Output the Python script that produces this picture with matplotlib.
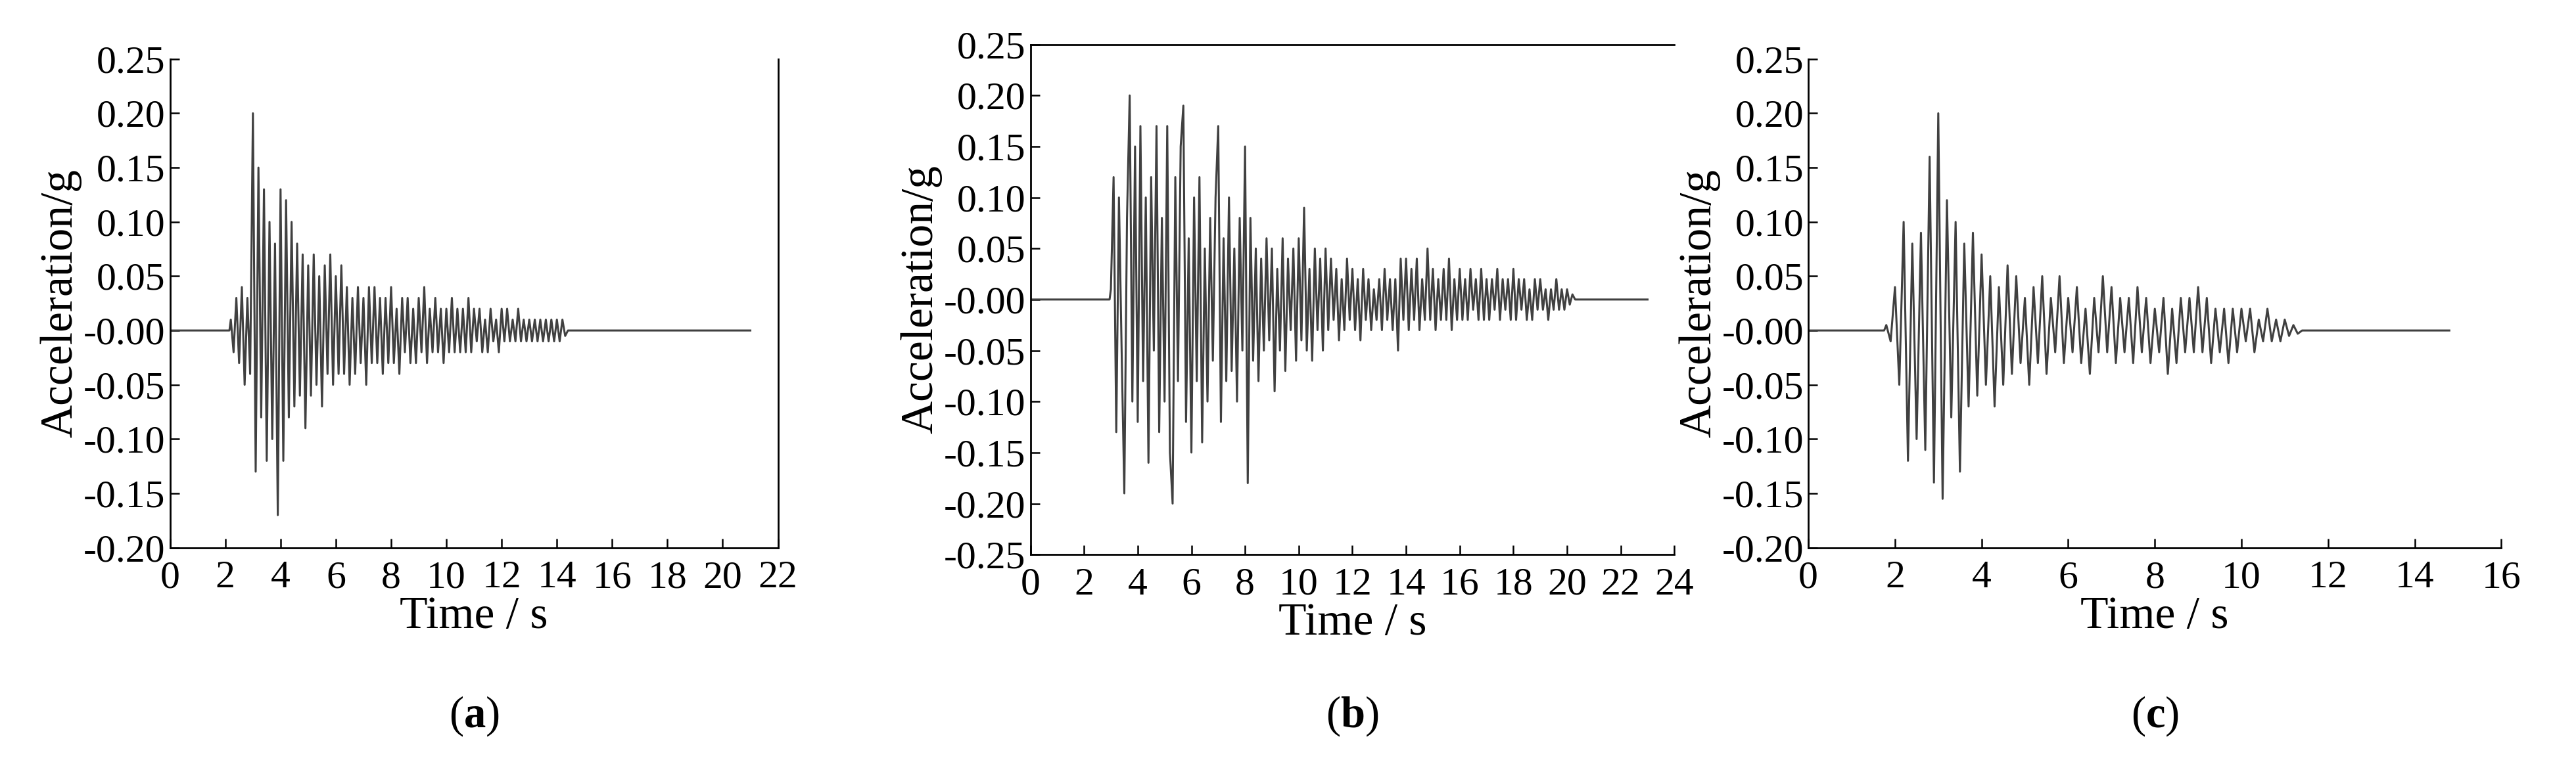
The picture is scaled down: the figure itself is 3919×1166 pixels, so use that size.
import numpy as np
import matplotlib
matplotlib.use("Agg")
import matplotlib.pyplot as plt

plt.rcParams['font.family'] = ['Liberation Serif', 'DejaVu Serif']
plt.rcParams['mathtext.fontset'] = 'custom'
plt.rcParams['mathtext.rm'] = 'Liberation Serif'
plt.rcParams['mathtext.bf'] = 'Liberation Serif:bold'
plt.rcParams['axes.unicode_minus'] = False

# ---- data ----
a_start, a_end, a_total = 2.2, 14.4, 21.0
a_vals = [0.01,-0.02,0.03,-0.03,0.04,-0.05,0.03,-0.04,
 0.20,-0.13,0.15,-0.08,0.13,-0.12,0.10,-0.10,0.08,-0.17,
 0.13,-0.12,0.12,-0.08,0.10,-0.07,0.08,-0.06,0.07,-0.09,
 0.06,-0.06,0.07,-0.05,0.05,-0.07,0.06,-0.04,0.07,-0.05,
 0.05,-0.04,0.06,-0.04,0.04,-0.05,0.03,-0.04,0.04,-0.03,
 0.03,-0.05,0.04,-0.03,0.04,-0.03,0.03,-0.04,0.03,-0.03,
 0.04,-0.03,0.02,-0.04,0.03,-0.02,0.03,-0.03,0.02,-0.03,
 0.03,-0.02,0.04,-0.03,0.02,-0.02,0.03,-0.02,0.02,-0.03,
 0.02,-0.02,0.03,-0.02,0.02,-0.02,0.02,-0.02,0.03,-0.02,
 0.02,-0.01,0.02,-0.02,0.01,-0.02,0.02,-0.01,0.01,-0.02,
 0.02,-0.01,0.02,-0.01,0.01,-0.01,0.02,-0.01,0.01,-0.01,
 0.01,-0.01,0.01,-0.01,0.01,-0.01,0.01,-0.01,0.01,-0.01,
 0.01,-0.01,0.01,-0.005,0.0]

b_start, b_end, b_total = 3.0, 20.4, 23.0
b_vals = [0.01,0.12,-0.13,0.10,-0.05,-0.19,0.08,0.20,-0.10,0.15,
 -0.12,0.17,-0.08,0.10,-0.16,0.12,-0.05,0.17,-0.13,0.08,
 -0.10,0.17,-0.15,-0.20,0.12,-0.08,0.15,0.19,-0.12,0.06,
 -0.15,0.10,-0.08,0.12,-0.14,0.05,-0.10,0.08,-0.06,0.10,
 0.17,-0.12,0.06,-0.08,0.10,-0.07,0.05,-0.10,0.08,-0.05,
 0.15,-0.18,0.08,-0.06,0.05,-0.08,0.04,-0.05,0.06,-0.04,
 0.05,-0.09,0.03,-0.05,0.06,-0.07,0.04,-0.03,0.05,-0.06,
 0.06,-0.04,0.09,-0.05,0.03,-0.06,0.05,-0.03,0.04,-0.05,
 0.05,-0.03,0.04,-0.02,0.03,-0.04,0.02,-0.03,0.04,-0.02,
 0.03,-0.03,0.02,-0.04,0.03,-0.02,0.02,-0.03,0.01,-0.02,
 0.02,-0.03,0.03,-0.02,0.02,-0.03,0.02,-0.05,0.04,-0.02,
 0.04,-0.03,0.03,-0.02,0.04,-0.03,0.02,-0.02,0.05,-0.02,
 0.03,-0.03,0.02,-0.02,0.03,-0.02,0.04,-0.03,0.02,-0.02,
 0.03,-0.02,0.02,-0.02,0.03,-0.01,0.02,-0.02,0.03,-0.02,
 0.02,-0.02,0.02,-0.01,0.03,-0.02,0.02,-0.01,0.02,-0.02,
 0.03,-0.02,0.02,-0.01,0.02,-0.02,0.01,-0.02,0.02,-0.01,
 0.02,-0.01,0.01,-0.02,0.01,-0.01,0.02,-0.01,0.01,-0.01,
 0.01,-0.005,0.005,0.0,0.0]

c_start, c_end, c_total = 1.8, 11.6, 14.8
c_vals = [0.005,-0.01,
 0.04,-0.05,0.10,-0.12,0.08,-0.10,0.09,-0.11,0.16,-0.14,
 0.20,-0.155,0.12,-0.08,0.10,-0.13,0.08,-0.07,0.09,-0.06,
 0.07,-0.05,0.05,-0.07,0.04,-0.05,0.06,-0.04,0.05,-0.03,
 0.03,-0.05,0.04,-0.03,0.05,-0.04,0.03,-0.02,0.05,-0.03,
 0.03,-0.02,0.04,-0.03,0.02,-0.04,0.03,-0.02,0.05,-0.02,
 0.04,-0.03,0.03,-0.02,0.03,-0.03,0.04,-0.02,0.03,-0.03,
 0.02,-0.02,0.03,-0.04,0.02,-0.03,0.03,-0.02,0.03,-0.02,
 0.04,-0.02,0.03,-0.03,0.02,-0.02,0.02,-0.03,0.02,-0.02,
 0.02,-0.01,0.02,-0.02,0.01,-0.01,0.02,-0.01,0.01,-0.01,
 0.01,-0.005,0.005,-0.003,0.0,0.0,0.0]

panels = [
    dict(start=a_start, end=a_end, total=a_total, vals=a_vals, xmax=22, ylim=(-0.20, 0.25),
         pos=[0.066, 0.285, 0.236, 0.638], spines=('left', 'bottom', 'right'), tag='a'),
    dict(start=b_start, end=b_end, total=b_total, vals=b_vals, xmax=24, ylim=(-0.25, 0.25),
         pos=[0.400, 0.276, 0.250, 0.666], spines=('left', 'bottom', 'top'), tag='b'),
    dict(start=c_start, end=c_end, total=c_total, vals=c_vals, xmax=16, ylim=(-0.20, 0.25),
         pos=[0.702, 0.285, 0.269, 0.638], spines=('left', 'bottom'), tag='c'),
]

fig = plt.figure(figsize=(39.19, 11.66), dpi=100)
for p in panels:
    ax = fig.add_axes(p['pos'])
    v = np.array(p['vals'])
    t_act = np.linspace(p['start'], p['end'], len(v))
    t = np.concatenate([[0.0, p['start'] - 0.05], t_act, [p['total']]])
    y = np.concatenate([[0.0, 0.0], v, [0.0]])
    ax.plot(t, y, color='#404040', lw=2.2)
    ax.set_xlim(0, p['xmax'])
    ax.set_ylim(*p['ylim'])
    ax.set_xticks(np.arange(0, p['xmax'] + 1, 2))
    ax.set_yticks(np.round(np.arange(p['ylim'][0], p['ylim'][1] + 0.001, 0.05), 2))
    ax.yaxis.set_major_formatter(matplotlib.ticker.FormatStrFormatter('%.2f'))
    for s in ['left', 'bottom', 'right', 'top']:
        ax.spines[s].set_visible(s in p['spines'])
        ax.spines[s].set_linewidth(2)
    ax.tick_params(direction='in', length=10, width=1.8, labelsize=43)
    ax.tick_params(axis='x', pad=14)
    ax.tick_params(axis='y', pad=5)
    ax.set_xlabel('Time / s', fontsize=50, labelpad=0)
    ax.set_ylabel('Acceleration/g', fontsize=50, labelpad=2)
    x0, y0, w, h = p['pos']
    fig.text(x0 + w / 2, 0.065, r'($\mathbf{%s}$)' % p['tag'], fontsize=48, ha='center', va='center')

fig.savefig('out.png', dpi=100, facecolor='white')
